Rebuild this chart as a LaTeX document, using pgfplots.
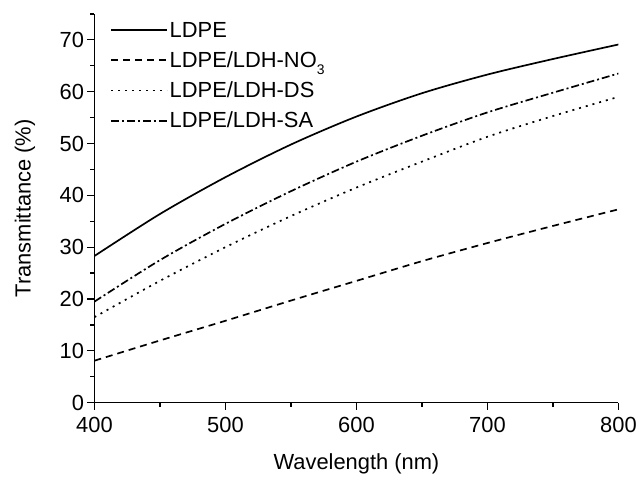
\documentclass[border=0pt]{standalone}
\usepackage{pgfplots}
\pgfplotsset{compat=1.18}
\usepackage{fontspec}
\setmainfont{Liberation Sans}
\begin{document}
\begin{tikzpicture}
\begin{axis}[
  scale only axis, width=527pt, height=391pt,
  xmin=400, xmax=800, ymin=0, ymax=75,
  axis x line*=bottom, axis y line*=left,
  axis line style={line width=1.3pt,-},
  xtick={400,500,...,800}, ytick={0,10,...,70},
  minor xtick={450,550,650,750}, minor ytick={5,15,...,75},
  tick align=outside, tick style={black, line width=1.3pt},
  major tick length=7pt, minor tick length=4pt,
  /pgf/number format/assume math mode=true,
  ticklabel style={font=\fontsize{22}{26}\selectfont},
  xticklabel style={yshift=-4pt},
  xlabel={Wavelength (nm)}, ylabel={Transmittance (\%)},
  every axis x label/.style={at={(axis description cs:0.5,0)}, anchor=center, yshift=-62pt, font=\fontsize{22}{26}\selectfont},
  every axis y label/.style={at={(axis description cs:0,0.5)}, xshift=-70pt, rotate=90, anchor=center, font=\fontsize{22}{26}\selectfont},
  legend style={draw=none, fill=none, at={(0.03,1.0)}, yshift=-6pt, anchor=north west, font=\fontsize{22}{26}\selectfont, row sep=9pt, inner sep=0pt},
  legend cell align=left,
  legend image code/.code={\draw[#1, line width=1.7pt] (0pt,0pt) -- (48pt,0pt); \path (0pt,0pt) -- (56pt,0pt);},
  every axis plot/.append style={line width=1.7pt, black, smooth},
  after end axis/.code={\path (rel axis cs:0,1) ++(-95pt,14pt); \path (rel axis cs:1,0) ++(18pt,-73pt);},
]
\addplot[solid] coordinates {(400,28.3)(450,36.4)(500,43.5)(550,49.8)(600,55.2)(650,59.7)(700,63.3)(750,66.3)(800,69.1)};
\addlegendentry{LDPE}
\addplot[dash pattern=on 7pt off 5pt] coordinates {(400,8.1)(450,12.0)(500,15.8)(550,19.7)(600,23.5)(650,27.3)(700,30.8)(750,34.1)(800,37.3)};
\addlegendentry{LDPE/LDH-NO\raisebox{-7pt}{\fontsize{14}{14}\selectfont 3}}
\addplot[dash pattern=on 2pt off 5pt] coordinates {(400,16.5)(450,23.5)(500,30.0)(550,36.0)(600,41.5)(650,46.5)(700,51.3)(750,55.3)(800,59.0)};
\addlegendentry{LDPE/LDH-DS}
\addplot[dash pattern=on 8pt off 3pt on 2pt off 3pt] coordinates {(400,19.5)(450,27.5)(500,34.5)(550,40.8)(600,46.5)(650,51.5)(700,56.0)(750,59.8)(800,63.5)};
\addlegendentry{LDPE/LDH-SA}
\end{axis}
\end{tikzpicture}
\end{document}
